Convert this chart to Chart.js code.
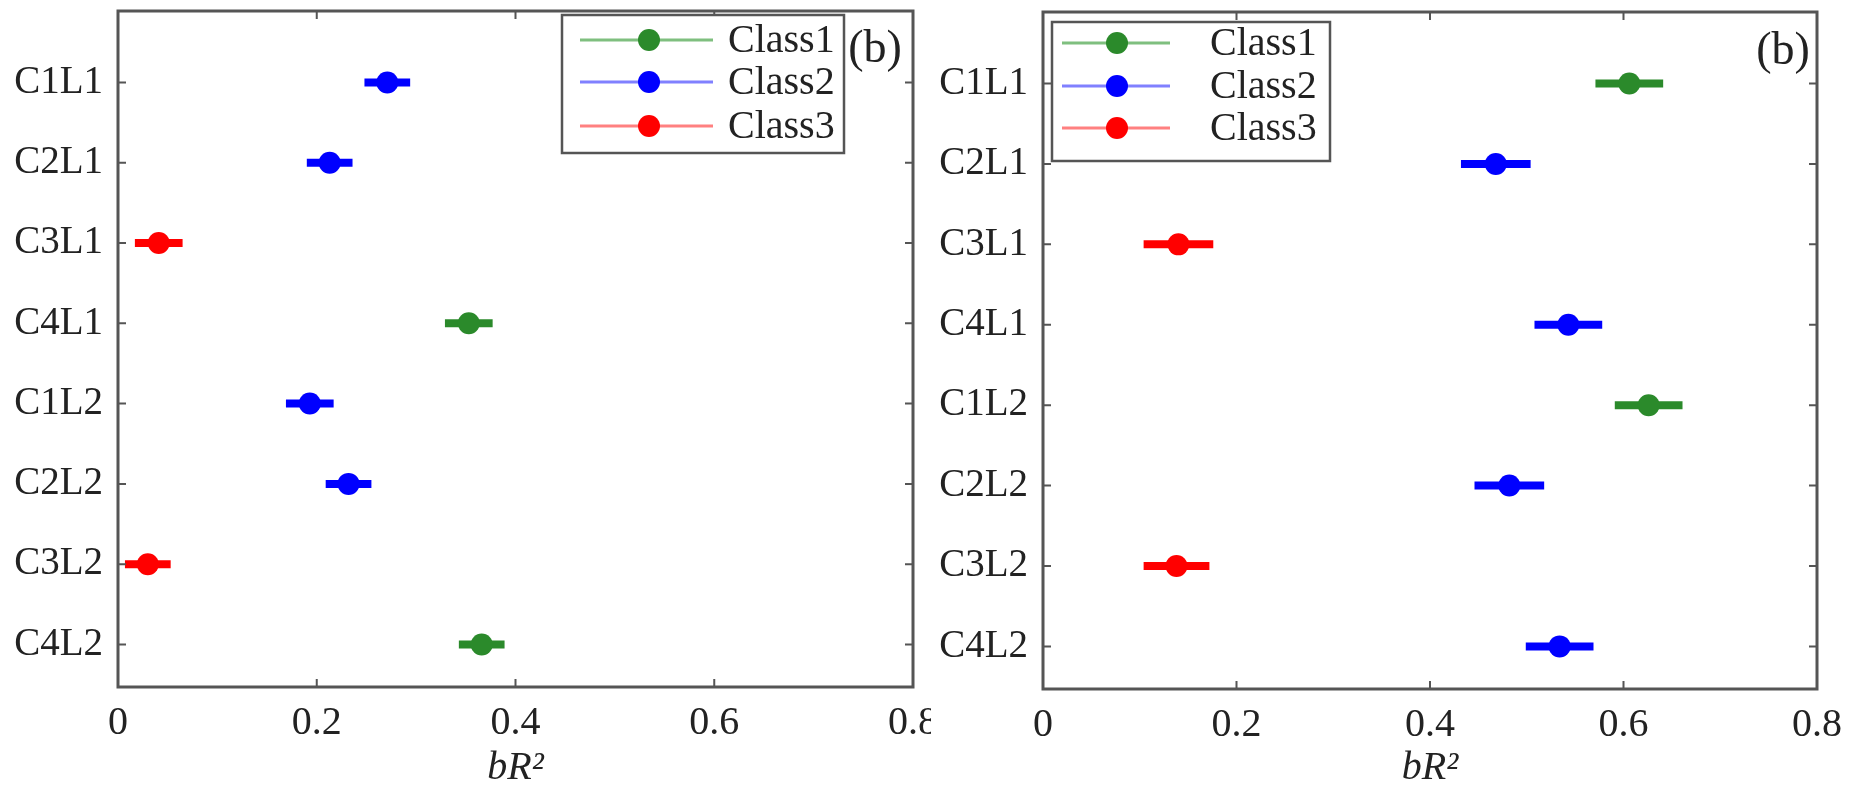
<!DOCTYPE html>
<html>
<head>
<meta charset="utf-8">
<script src="https://cdn.jsdelivr.net/npm/chart.js@4.4.0/dist/chart.umd.min.js"></script>
<style>
  html, body { margin: 0; padding: 0; background: #fff; }
  body { width: 1862px; height: 795px; position: relative; overflow: hidden; font-family: "Liberation Serif", serif; }
  .panel { position: absolute; top: 0; width: 931px; height: 795px; }
</style>
</head>
<body>
<div class="panel" style="left:0"><canvas id="left" width="931" height="795"></canvas></div>
<div class="panel" style="left:931px"><canvas id="right" width="931" height="795"></canvas></div>
<script>
var categories = "C1L1, C2L1, C3L1, C4L1, C1L2, C2L2, C3L2, C4L2".split(", ");
var classNames = ["Class1", "Class2", "Class3"];
var xTicks = [0, 0.2, 0.4, 0.6, 0.8];

// left panel: bR2 per category, half width of the bar, class (1..3)
var leftValues = [0.271, 0.213, 0.041, 0.353, 0.193, 0.232, 0.030, 0.366];
var leftErrors = [0.023, 0.023, 0.024, 0.024, 0.024, 0.023, 0.023, 0.023];
var leftClass  = [2, 2, 3, 1, 2, 2, 3, 1];

// right panel
var rightValues = [0.606, 0.468, 0.140, 0.543, 0.626, 0.482, 0.138, 0.534];
var rightErrors = [0.035, 0.036, 0.036, 0.035, 0.035, 0.036, 0.034, 0.035];
var rightClass  = [1, 2, 3, 2, 1, 2, 3, 2];

var markerColors = ['#2b8a2b', '#0000ff', '#ff0000'];
var legendLineColors = ['#7fbf7f', '#8080ff', '#ff8080'];
var FONT = '"Liberation Serif", "Times New Roman", serif';

var errorBarPlugin = {
  id: 'errorBars',
  beforeDatasetsDraw: function(chart) {
    var ctx = chart.ctx, xs = chart.scales.x, ys = chart.scales.y;
    ctx.save();
    chart.data.datasets.forEach(function(ds) {
      ctx.strokeStyle = ds.backgroundColor;
      ctx.lineWidth = 8;
      ds.data.forEach(function(p) {
        var y = ys.getPixelForValue(p.y);
        ctx.beginPath();
        ctx.moveTo(xs.getPixelForValue(p.x - p.err), y);
        ctx.lineTo(xs.getPixelForValue(p.x + p.err), y);
        ctx.stroke();
      });
    });
    ctx.restore();
  }
};

var framePlugin = {
  id: 'frame',
  afterDatasetsDraw: function(chart) {
    var a = chart.chartArea, ctx = chart.ctx;
    var xs = chart.scales.x, ys = chart.scales.y;
    ctx.save();
    ctx.strokeStyle = '#555';
    ctx.lineWidth = 2;
    ctx.beginPath();
    xs.ticks.forEach(function(t) {
      var x = xs.getPixelForValue(t.value);
      ctx.moveTo(x, a.bottom); ctx.lineTo(x, a.bottom - 8);
      ctx.moveTo(x, a.top); ctx.lineTo(x, a.top + 8);
    });
    ys.ticks.forEach(function(t) {
      var y = ys.getPixelForValue(t.value);
      ctx.moveTo(a.left, y); ctx.lineTo(a.left + 8, y);
      ctx.moveTo(a.right, y); ctx.lineTo(a.right - 8, y);
    });
    ctx.stroke();
    ctx.lineWidth = 3;
    ctx.strokeRect(a.left, a.top, a.right - a.left, a.bottom - a.top);
    ctx.restore();
  }
};

var legendPlugin = {
  id: 'boxLegend',
  afterDraw: function(chart, args, opts) {
    var ctx = chart.ctx, L = opts.box;
    ctx.save();
    ctx.fillStyle = '#fff';
    ctx.fillRect(L.x, L.y, L.w, L.h);
    ctx.strokeStyle = '#555';
    ctx.lineWidth = 2.5;
    ctx.strokeRect(L.x, L.y, L.w, L.h);
    chart.data.datasets.forEach(function(ds, k) {
      var y = L.y + L.rows[k];
      ctx.strokeStyle = legendLineColors[k];
      ctx.lineWidth = 3;
      ctx.beginPath();
      ctx.moveTo(L.x + L.line[0], y);
      ctx.lineTo(L.x + L.line[1], y);
      ctx.stroke();
      ctx.fillStyle = markerColors[k];
      ctx.beginPath();
      ctx.arc(L.x + L.marker, y, 11, 0, Math.PI * 2);
      ctx.fill();
      ctx.fillStyle = '#222';
      ctx.font = '40px ' + FONT;
      ctx.textBaseline = 'middle';
      ctx.textAlign = 'left';
      ctx.fillText(ds.label, L.x + L.text, y + 1);
    });
    ctx.font = '46px ' + FONT;
    ctx.textAlign = 'center';
    ctx.fillStyle = '#222';
    ctx.fillText('(b)', opts.tag.x, opts.tag.y);
    ctx.restore();
  }
};

function makeChart(id, values, errors, cls, panel) {
  var datasets = classNames.map(function(name, k) {
    var pts = [];
    values.forEach(function(v, i) {
      if (cls[i] === k + 1) pts.push({x: v, y: i + 1, err: errors[i]});
    });
    return {
      label: name,
      data: pts,
      backgroundColor: markerColors[k],
      borderWidth: 0,
      pointRadius: 11,
      pointHoverRadius: 11
    };
  });
  return new Chart(document.getElementById(id), {
    type: 'scatter',
    data: {datasets: datasets},
    plugins: [errorBarPlugin, framePlugin, legendPlugin],
    options: {
      responsive: false,
      animation: false,
      events: [],
      layout: {padding: {top: panel.top, right: panel.right, left: 0, bottom: 0}},
      plugins: {
        legend: {display: false},
        tooltip: {enabled: false},
        boxLegend: {box: panel.legend, tag: panel.tag}
      },
      scales: {
        x: {
          type: 'linear',
          min: 0, max: 0.8,
          grid: {display: false, drawTicks: false},
          border: {display: false},
          afterBuildTicks: function(s) { s.ticks = xTicks.map(function(v) { return {value: v}; }); },
          ticks: {
            padding: 12, maxRotation: 0, autoSkip: false, color: '#222',
            font: {family: FONT, size: 40},
            callback: function(v) { return v === 0 ? '0' : v.toFixed(1); }
          },
          title: {
            display: true, text: 'bR\u00b2', color: '#222',
            font: {family: FONT, size: 40, style: 'italic'},
            padding: {top: 0, bottom: 3}
          },
          afterFit: function(s) {
            s.height = panel.xHeight;
            s.paddingLeft = 0; s.paddingRight = 0;
          }
        },
        y: {
          type: 'linear',
          reverse: true,
          min: 0.11, max: 8.53,
          grid: {display: false, drawTicks: false},
          border: {display: false},
          afterBuildTicks: function(s) { s.ticks = categories.map(function(c, i) { return {value: i + 1}; }); },
          ticks: {
            padding: 15, autoSkip: false, color: '#222',
            font: {family: FONT, size: 39},
            callback: function(v) { return categories[v - 1]; }
          },
          afterFit: function(s) {
            s.width = panel.yWidth;
            s.paddingTop = 0; s.paddingBottom = 0;
          }
        }
      }
    }
  });
}

function drawAll() {
  makeChart('left', leftValues, leftErrors, leftClass, {
    top: 9, right: 18, yWidth: 118, xHeight: 108,
    legend: {x: 562, y: 15, w: 282, h: 138, rows: [25, 67, 111], line: [18, 151], marker: 87, text: 166},
    tag: {x: 875, y: 50}
  });
  makeChart('right', rightValues, rightErrors, rightClass, {
    top: 12, right: 45, yWidth: 112, xHeight: 106,
    legend: {x: 121, y: 22, w: 278, h: 139, rows: [21, 64, 106], line: [10, 118], marker: 65, text: 158},
    tag: {x: 852, y: 52}
  });
}

Promise.all([
  document.fonts.load('39px "Liberation Serif"'),
  document.fonts.load('italic 40px "Liberation Serif"')
]).then(drawAll, drawAll);
</script>
</body>
</html>
